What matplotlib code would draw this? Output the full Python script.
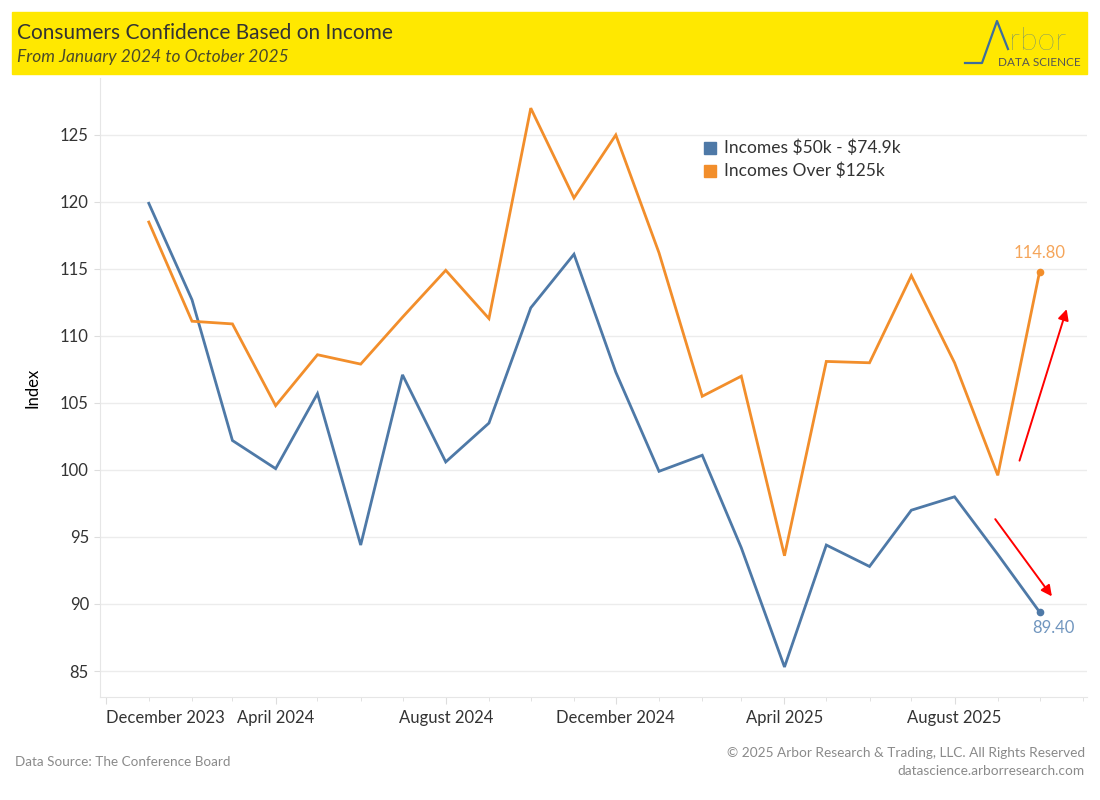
import matplotlib.pyplot as plt
import matplotlib.dates as mdates
import pandas as pd
from matplotlib.patches import Rectangle

# data to plot
months = pd.date_range('2024-01-01', periods=22, freq='MS')
mid_income = [119.9, 112.7, 102.2, 100.1, 105.7, 94.4, 107.1, 100.6, 103.5, 112.1, 116.1,
              107.3, 99.9, 101.1, 94.2, 85.3, 94.4, 92.8, 97.0, 98.0, 93.7, 89.4]
high_income = [118.5, 111.1, 110.9, 104.8, 108.6, 107.9, 111.4, 114.9, 111.3, 127.0, 120.3,
               125.0, 116.2, 105.5, 107.0, 93.6, 108.1, 108.0, 114.5, 108.0, 99.6, 114.8]
series_names = [r'Incomes \$50k - \$74.9k', r'Incomes Over \$125k']
tick_dates = pd.to_datetime(['2023-12-01', '2024-04-01', '2024-08-01',
                             '2024-12-01', '2025-04-01', '2025-08-01'])
tick_labels = ['December 2023', 'April 2024', 'August 2024',
               'December 2024', 'April 2025', 'August 2025']
y_ticks = [85, 90, 95, 100, 105, 110, 115, 120, 125]

blue = '#4e79a7'
orange = '#f28e2b'
txt = '#333333'
grid = '#ececec'

plt.rcParams['font.family'] = ['Lato', 'DejaVu Sans']

fig = plt.figure(figsize=(11, 8), dpi=100)
ax = fig.add_axes([100 / 1100, 1 - 697 / 800, 987 / 1100, 619 / 800])

ax.plot(months, mid_income, color=blue, lw=2.0, solid_joinstyle='miter')
ax.plot(months, high_income, color=orange, lw=2.0, solid_joinstyle='miter')
ax.plot(months[-1], mid_income[-1], 'o', color=blue, ms=4.5)
ax.plot(months[-1], high_income[-1], 'o', color=orange, ms=4.5)

ax.annotate(f'{high_income[-1]:.2f}', (months[-1], high_income[-1]), xytext=(0, 8),
            textcoords='offset points', ha='center', va='bottom', color='#f5a55a', fontsize=12)
ax.annotate(f'{mid_income[-1]:.2f}', (months[-1], mid_income[-1]), xytext=(-5, -6),
            textcoords='offset points', ha='left', va='top', color='#7196bf', fontsize=12)

# red arrows
ax.annotate('', xy=(pd.Timestamp('2025-10-21'), 112.2), xytext=(pd.Timestamp('2025-09-16'), 100.5),
            arrowprops=dict(arrowstyle='-|>', color='red', lw=1.4, mutation_scale=16))
ax.annotate('', xy=(pd.Timestamp('2025-10-11'), 90.4), xytext=(pd.Timestamp('2025-08-29'), 96.5),
            arrowprops=dict(arrowstyle='-|>', color='red', lw=1.4, mutation_scale=16))

ax.set_xlim(pd.Timestamp('2023-11-27'), pd.Timestamp('2025-11-04'))
ax.set_ylim(83.06, 129.25)
ax.set_yticks(y_ticks)
ax.set_yticklabels([str(v) for v in y_ticks], fontsize=12, color=txt)
ax.set_xticks(tick_dates)
ax.set_xticklabels(tick_labels, fontsize=12, color=txt)
ax.get_xticklabels()[0].set_ha('left')
ax.xaxis.set_minor_locator(mdates.MonthLocator())
ax.tick_params(axis='x', which='major', length=5, color='#dddddd', pad=4.5)
ax.tick_params(axis='x', which='minor', length=3, color='#dddddd')
ax.tick_params(axis='y', length=4, color='#dddddd', pad=4)
ax.grid(axis='y', color=grid, lw=1)
ax.set_axisbelow(True)
for s in ['top', 'right']:
    ax.spines[s].set_visible(False)
for s in ['left', 'bottom']:
    ax.spines[s].set_color('#e6e6e6')
ax.set_ylabel('Index', fontsize=12, color='black', labelpad=14)

# legend
fig.patches.append(Rectangle((704 / 1100, 1 - 154 / 800), 12 / 1100, 12 / 800,
                             transform=fig.transFigure, color=blue))
fig.patches.append(Rectangle((704 / 1100, 1 - 177 / 800), 12 / 1100, 12 / 800,
                             transform=fig.transFigure, color=orange))
fig.text(724 / 1100, 1 - 148 / 800, series_names[0], fontsize=12.5, color=txt, va='center')
fig.text(724 / 1100, 1 - 171 / 800, series_names[1], fontsize=12.5, color=txt, va='center')

# header
fig.patches.append(Rectangle((12 / 1100, 1 - 74 / 800), 1075 / 1100, 62 / 800,
                             transform=fig.transFigure, color='#ffe800', zorder=0))
fig.text(17 / 1100, 1 - 33 / 800, 'Consumers Confidence Based on Income',
         fontsize=15, color=txt, va='center')
fig.text(17 / 1100, 1 - 57 / 800, 'From January 2024 to October 2025',
         fontsize=12.5, color='#4a4a2a', style='italic', va='center')

# logo
fig.add_artist(plt.Line2D([965 / 1100, 982 / 1100, 997 / 1100, 1008 / 1100],
                          [1 - 63 / 800, 1 - 63 / 800, 1 - 21 / 800, 1 - 49 / 800],
                          color='#3d6e9c', lw=1.6, transform=fig.transFigure))
fig.text(1009 / 1100, 1 - 50 / 800, 'rbor', fontsize=23, color='#3d6e9c', va='baseline',
         fontweight='light')
fig.text(1081 / 1100, 1 - 62 / 800, 'DATA SCIENCE', fontsize=8.5, color='#555555',
         va='center', ha='right')

# footer
fig.text(15 / 1100, 1 - 762 / 800, 'Data Source: The Conference Board',
         fontsize=9.7, color='#8a8a8a', va='center')
fig.text(1085 / 1100, 1 - 753 / 800, '© 2025 Arbor Research & Trading, LLC. All Rights Reserved',
         fontsize=9.8, color='#8a8a8a', va='center', ha='right')
fig.text(1085 / 1100, 1 - 771 / 800, 'datascience.arborresearch.com',
         fontsize=9.8, color='#8a8a8a', va='center', ha='right')

fig.savefig('out.png', dpi=100)
